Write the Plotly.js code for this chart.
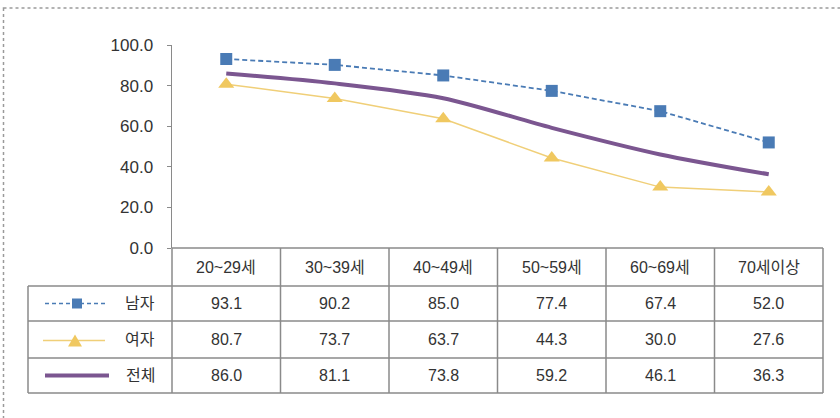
<!DOCTYPE html>
<html>
<head>
<meta charset="utf-8">
<script src="https://cdn.plot.ly/plotly-3.0.1.min.js"></script>
<style>html,body{margin:0;padding:0;background:#fff;}#chart{width:840px;height:418px;}</style>
</head>
<body>
<div id="chart"></div>
<script>
const categories = ['20~29세', '30~39세', '40~49세', '50~59세', '60~69세', '70세이상'];
const male = [93.1, 90.2, 85.0, 77.4, 67.4, 52.0];
const female = [80.7, 73.7, 63.7, 44.3, 30.0, 27.6];
const total = [86.0, 81.1, 73.8, 59.2, 46.1, 36.3];
const seriesNames = ['남자', '여자', '전체'];
const yTicks = [0, 20, 40, 60, 80, 100];

const W = 840, H = 418;
const px = x => x / W;
const py = y => 1 - y / H;

const FONT = 'Liberation Sans, Arial, Noto Sans CJK KR, sans-serif';
const TXT = '#333333';
const GRID = '#8a8a8a';
const BLUE = '#4a7bb5';
const YEL = '#f0cf78';
const PUR = '#7b5690';

// layout geometry (pixels)
const plotL = 172, plotR = 823, plotT = 45, plotB = 248;
const rowY = [248, 286, 321, 358, 393];
const tableL = 28;

const traces = [
  {x: categories.map((c, i) => i), y: male, name: seriesNames[0], mode: 'lines+markers',
   line: {color: BLUE, width: 1.8, dash: '5px,3px'}, marker: {symbol: 'square', size: 12, color: BLUE}},
  {x: categories.map((c, i) => i), y: female, name: seriesNames[1], mode: 'lines+markers',
   line: {color: YEL, width: 1.5}, marker: {symbol: 'triangle-up', size: 14, color: '#f0c860'}},
  {x: categories.map((c, i) => i), y: total, name: seriesNames[2], mode: 'lines',
   line: {color: PUR, width: 4, shape: 'spline', smoothing: 0.8}}
];

const shapes = [];
const annotations = [];
const line = (x0, y0, x1, y1, opts) => shapes.push(Object.assign({type: 'line', xref: 'paper', yref: 'paper',
  x0: px(x0), y0: py(y0), x1: px(x1), y1: py(y1), line: {color: GRID, width: 1.5}}, opts || {}));

// outer dotted frame
shapes.push({type: 'rect', xref: 'paper', yref: 'paper', x0: px(3.5), y0: py(8), x1: px(860), y1: py(440),
  line: {color: '#9a9a9a', width: 1.5, dash: 'dot'}});

// table horizontal lines
line(plotL, rowY[0], plotR, rowY[0]);
for (let r = 1; r < rowY.length; r++) line(tableL, rowY[r], plotR, rowY[r]);
// table vertical lines
line(tableL, rowY[1], tableL, rowY[4]);
for (let c = 0; c <= categories.length; c++) {
  const x = plotL + (plotR - plotL) * c / categories.length;
  line(x, rowY[0], x, rowY[4]);
}

// header labels
categories.forEach((c, i) => annotations.push({xref: 'x', yref: 'paper', x: i, y: py((rowY[0] + rowY[1]) / 2),
  text: c, showarrow: false, font: {family: FONT, size: 16, color: TXT}, xanchor: 'center', yanchor: 'middle'}));

// value cells
[male, female, total].forEach((arr, r) => {
  const yc = (rowY[r + 1] + rowY[r + 2]) / 2;
  arr.forEach((v, i) => annotations.push({xref: 'x', yref: 'paper', x: i, y: py(yc),
    text: v.toFixed(1), showarrow: false, font: {family: FONT, size: 16, color: TXT}, xanchor: 'center', yanchor: 'middle'}));
  annotations.push({xref: 'paper', yref: 'paper', x: px(140), y: py(yc), text: seriesNames[r], showarrow: false,
    font: {family: FONT, size: 16, color: TXT}, xanchor: 'center', yanchor: 'middle'});
});

// legend samples
const y1 = (rowY[1] + rowY[2]) / 2, y2 = (rowY[2] + rowY[3]) / 2, y3 = (rowY[3] + rowY[4]) / 2;
line(45, y1, 108, y1, {line: {color: BLUE, width: 1.5, dash: '4px,3px'}});
shapes.push({type: 'rect', xref: 'paper', yref: 'paper', x0: px(72), x1: px(82), y0: py(y1 - 5), y1: py(y1 + 5),
  fillcolor: BLUE, line: {width: 0}});
line(43, y2 + 1, 105, y2 + 1, {line: {color: YEL, width: 1.5}});
shapes.push({type: 'path', xref: 'paper', yref: 'paper',
  path: `M ${px(68)} ${py(y2 + 7)} L ${px(82)} ${py(y2 + 7)} L ${px(75)} ${py(y2 - 5)} Z`,
  fillcolor: '#f0c860', line: {width: 0}});
line(45, y3, 109, y3, {line: {color: PUR, width: 4}});

const layout = {
  width: W, height: H,
  margin: {l: 0, r: 0, t: 0, b: 0},
  paper_bgcolor: '#ffffff', plot_bgcolor: '#ffffff',
  showlegend: false,
  xaxis: {domain: [px(plotL), px(plotR)], range: [-0.5, categories.length - 0.5], showticklabels: false,
    showgrid: false, zeroline: false, showline: false, ticks: ''},
  yaxis: {domain: [py(plotB), py(plotT)], range: [0, 100], tickvals: yTicks, ticktext: yTicks.map(v => v.toFixed(1)),
    showgrid: false, zeroline: false, showline: true, linecolor: GRID, linewidth: 1.5, ticks: 'outside', ticklen: 4,
    tickcolor: GRID, tickfont: {family: FONT, size: 17, color: TXT}, ticklabelstandoff: 10},
  shapes: shapes,
  annotations: annotations
};

Plotly.newPlot('chart', traces, layout, {displayModeBar: false, staticPlot: true});
</script>
</body>
</html>
